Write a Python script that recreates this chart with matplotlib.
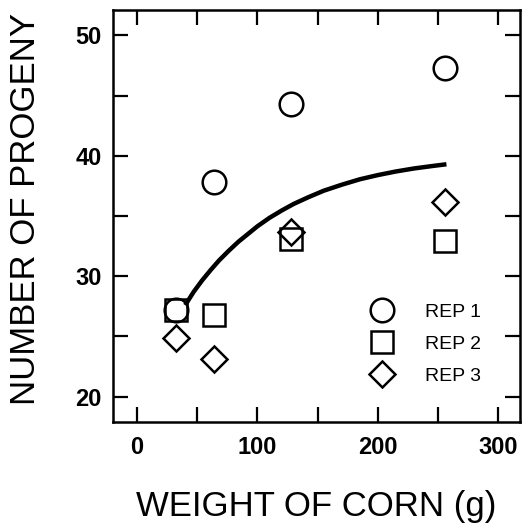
import matplotlib
matplotlib.use('Agg')
import numpy as np
import matplotlib.pyplot as plt
from matplotlib.ticker import MultipleLocator

plt.rcParams['font.family'] = 'Liberation Sans'

# Corn weight (g) for each replicate
corn_weight = [32, 64, 128, 256]

# Number of progeny per replicate
rep1 = [27.2, 37.8, 44.3, 47.3]
rep2 = [27.2, 26.8, 33.1, 32.9]
rep3 = [24.9, 23.1, 33.7, 36.2]

# Fitted curve
curve_x = [40, 47, 54, 61, 68, 76, 84, 92, 100, 110, 120, 130, 142, 155,
           170, 185, 200, 215, 230, 245, 257]
curve_y = [27.6, 28.7, 29.65, 30.5, 31.3, 32.1, 32.85, 33.5, 34.15, 34.85,
           35.45, 36.0, 36.55, 37.1, 37.6, 38.05, 38.4, 38.7, 38.95, 39.15, 39.3]

fig = plt.figure(figsize=(5.23, 5.32), dpi=100)
ax = fig.add_axes([0.216, 0.2068, 0.778, 0.7742])

ax.plot(curve_x, curve_y, color='black', linewidth=3.2, solid_capstyle='butt',
        solid_joinstyle='round', zorder=2)

mk = dict(linestyle='none', markerfacecolor='none', markeredgecolor='black',
          markeredgewidth=1.8, zorder=3)
ax.plot(corn_weight, rep1, marker='o', markersize=17, label='REP 1', **mk)
ax.plot(corn_weight, rep2, marker='s', markersize=15.5, label='REP 2', **mk)
ax.plot(corn_weight, rep3, marker='D', markersize=13.5, label='REP 3', **mk)

ax.set_xlim(-20, 318)
ax.set_ylim(17.9, 52.1)
ax.xaxis.set_major_locator(MultipleLocator(100))
ax.xaxis.set_minor_locator(MultipleLocator(50))
ax.yaxis.set_major_locator(MultipleLocator(10))
ax.yaxis.set_minor_locator(MultipleLocator(5))

ax.tick_params(which='both', direction='in', length=10.8, width=1.6,
               top=True, right=True)
ax.tick_params(axis='x', which='major', pad=10)
ax.tick_params(axis='y', which='major', pad=8)
for lab in ax.get_xticklabels() + ax.get_yticklabels():
    lab.set_fontsize(17)
    lab.set_fontweight('bold')

for sp in ax.spines.values():
    sp.set_linewidth(1.8)

ax.set_xlabel('WEIGHT OF CORN (g)', fontsize=25)
ax.set_ylabel('NUMBER OF PROGENY', fontsize=25)
ax.xaxis.set_label_coords(0.5, -0.165)
ax.yaxis.set_label_coords(-0.175, 0.517)

ax.legend(loc='center left', bbox_to_anchor=(0.637, 0.19), frameon=False,
          fontsize=14, numpoints=1, handlelength=1.0, handletextpad=1.71,
          labelspacing=0.74, borderpad=0, borderaxespad=0)

fig.savefig('out.png', dpi=100)
